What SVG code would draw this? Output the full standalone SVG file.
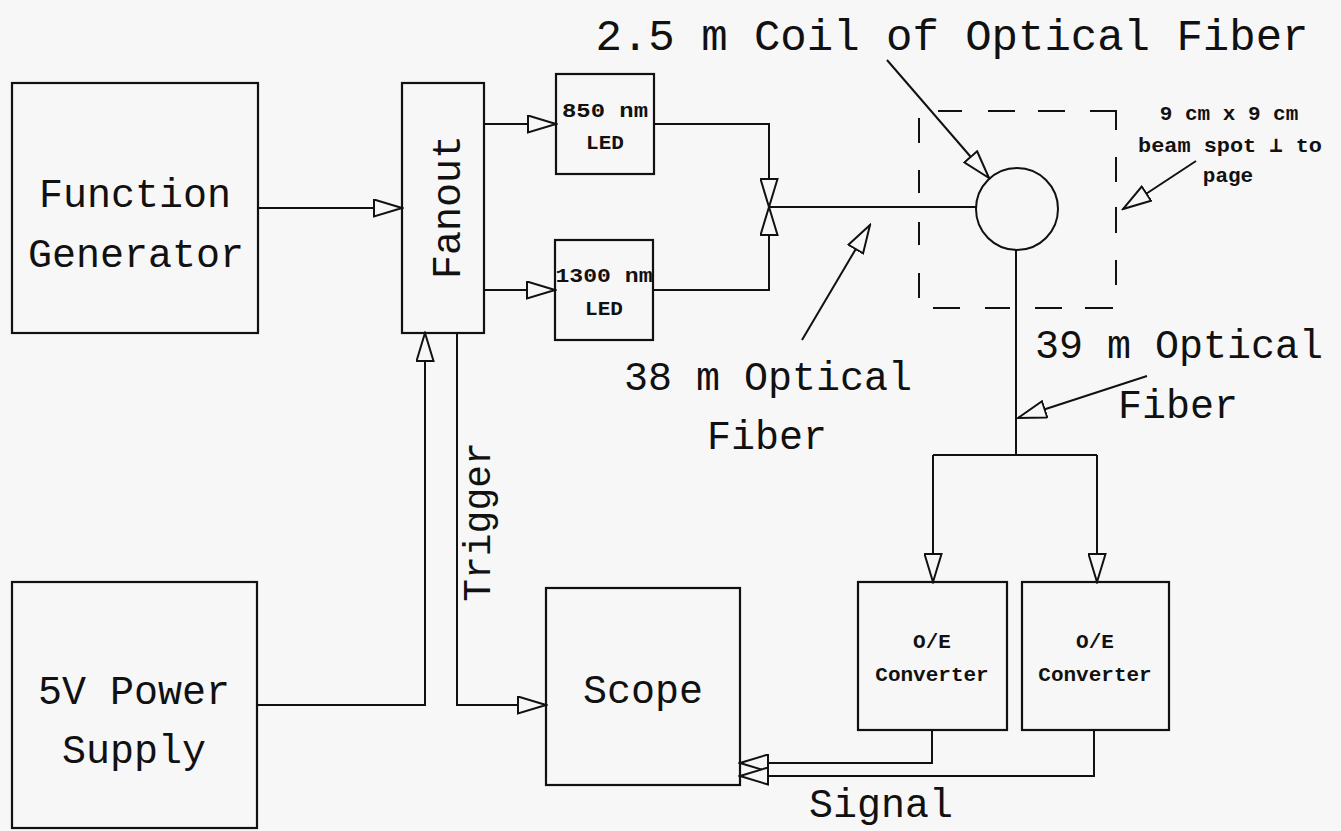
<svg xmlns="http://www.w3.org/2000/svg" width="1341" height="831" viewBox="0 0 1341 831">
<style>
.box{fill:none;stroke:#111;stroke-width:2.2}
.ln{fill:none;stroke:#111;stroke-width:2}
.big{font-family:"Liberation Mono","Courier New",monospace;font-size:40px;fill:#111;text-anchor:middle}
.sm{font-family:"Liberation Mono","Courier New",monospace;font-size:21px;font-weight:bold;fill:#111;text-anchor:middle}
</style>
<defs>
<marker id="ah" markerUnits="userSpaceOnUse" markerWidth="31" markerHeight="19" refX="28" refY="8.5" orient="auto" viewBox="-1 -1 31 19">
<path d="M0,0 L28,8.5 L0,17 Z" fill="#f7f7f7" stroke="#111" stroke-width="2"/>
</marker>
</defs>
<rect width="1341" height="831" fill="#f7f7f7"/>
<g id="connectors">
<path class="ln" d="M258,208 H402" marker-end="url(#ah)"/>
<path class="ln" d="M484,124 H556" marker-end="url(#ah)"/>
<path class="ln" d="M484,290 H555" marker-end="url(#ah)"/>
<path class="ln" d="M654,124 H769 V207" marker-end="url(#ah)"/>
<path class="ln" d="M653,290 H769 V207" marker-end="url(#ah)"/>
<path class="ln" d="M769,207 H976"/>
<path class="ln" d="M1016,250 V455 M933,455 H1097"/>
<path class="ln" d="M933,455 V582" marker-end="url(#ah)"/>
<path class="ln" d="M1097,455 V582" marker-end="url(#ah)"/>
<path class="ln" d="M932,730 V763 H740" marker-end="url(#ah)"/>
<path class="ln" d="M1094,730 V776 H740" marker-end="url(#ah)"/>
<path class="ln" d="M257,705 H425 V333" marker-end="url(#ah)"/>
<path class="ln" d="M457,333 V705 H546" marker-end="url(#ah)"/>
<path class="ln" d="M887,60 L989,178" marker-end="url(#ah)"/>
<path class="ln" d="M802,340 L870,225" marker-end="url(#ah)"/>
<path class="ln" d="M1147,376 L1018,418" marker-end="url(#ah)"/>
<path class="ln" d="M1196,161 L1123,209" marker-end="url(#ah)"/>
</g>
<g id="function-generator">
<rect class="box" x="12" y="83" width="246" height="250"/>
<text class="big" x="135" y="207">Function</text>
<text class="big" x="136" y="267">Generator</text>
</g>
<g id="power-supply">
<rect class="box" x="12" y="582" width="245" height="246"/>
<text class="big" x="134" y="704">5V Power</text>
<text class="big" x="134" y="763">Supply</text>
</g>
<g id="fanout">
<rect class="box" x="402" y="83" width="82" height="250"/>
<text class="big" transform="translate(460,207) rotate(-90)">Fanout</text>
</g>
<g id="led-850">
<rect class="box" x="556" y="74" width="98" height="100"/>
<text class="sm" x="605" y="117" textLength="86" lengthAdjust="spacingAndGlyphs">850 nm</text>
<text class="sm" x="605" y="149">LED</text>
</g>
<g id="led-1300">
<rect class="box" x="555" y="240" width="98" height="100"/>
<text class="sm" x="604" y="282" textLength="97" lengthAdjust="spacingAndGlyphs">1300 nm</text>
<text class="sm" x="604" y="315">LED</text>
</g>
<g id="coil">
<circle cx="1017" cy="209" r="41" fill="none" stroke="#111" stroke-width="2"/>
<path class="ln" d="M938,111 H962 M988,111 H1015 M1038,111 H1065 M1090,111 H1116 V130 M1116,157 V182 M1116,207 V233 M1116,260 V285 M919,118 V143 M919,170 V193 M919,222 V245 M919,273 V298 M933,308 H960 M985,308 H1010 M1035,308 H1062 M1085,308 H1113"/>
</g>
<g id="oe-1">
<rect class="box" x="858" y="582" width="149" height="148"/>
<text class="sm" x="932" y="648">O/E</text>
<text class="sm" x="932" y="681">Converter</text>
</g>
<g id="oe-2">
<rect class="box" x="1022" y="582" width="147" height="148"/>
<text class="sm" x="1095" y="648">O/E</text>
<text class="sm" x="1095" y="681">Converter</text>
</g>
<g id="scope">
<rect class="box" x="546" y="588" width="194" height="197"/>
<text class="big" x="643" y="703">Scope</text>
</g>
<g id="labels">
<text class="big" x="952" y="50" style="font-size:44px">2.5 m Coil of Optical Fiber</text>
<text class="sm" x="1229" y="120">9 cm x 9 cm</text>
<text class="sm" x="1230" y="152" textLength="184" lengthAdjust="spacingAndGlyphs">beam spot ⊥ to</text>
<text class="sm" x="1228" y="182">page</text>
<text class="big" x="768" y="390">38 m Optical</text>
<text class="big" x="767" y="449">Fiber</text>
<text class="big" x="1179" y="358">39 m Optical</text>
<text class="big" x="1178" y="418">Fiber</text>
<text class="big" transform="translate(490,522) rotate(-90)" style="font-size:38px">Trigger</text>
<text class="big" x="881" y="817">Signal</text>
</g>
</svg>
